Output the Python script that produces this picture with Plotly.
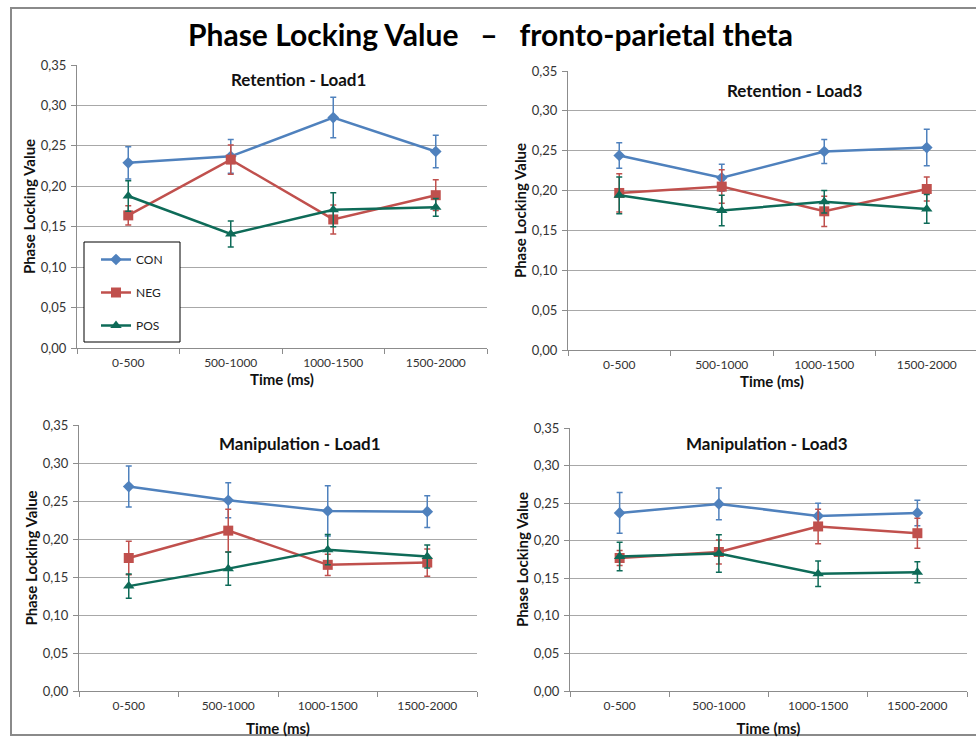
import plotly.graph_objects as go

categories = ["0-500", "500-1000", "1000-1500", "1500-2000"]
groups = ["CON", "NEG", "POS"]

panel_titles = ["Retention - Load1", "Retention - Load3",
                "Manipulation - Load1", "Manipulation - Load3"]

# Retention - Load1
ret_l1_con = [0.229, 0.237, 0.285, 0.243]
ret_l1_con_err = [0.020, 0.021, 0.025, 0.020]
ret_l1_neg = [0.164, 0.233, 0.159, 0.189]
ret_l1_neg_err = [0.012, 0.018, 0.018, 0.019]
ret_l1_pos = [0.188, 0.141, 0.171, 0.174]
ret_l1_pos_err = [0.019, 0.016, 0.021, 0.011]

# Retention - Load3
ret_l3_con = [0.244, 0.216, 0.249, 0.254]
ret_l3_con_err = [0.016, 0.017, 0.015, 0.023]
ret_l3_neg = [0.197, 0.205, 0.174, 0.202]
ret_l3_neg_err = [0.024, 0.021, 0.019, 0.015]
ret_l3_pos = [0.194, 0.175, 0.186, 0.177]
ret_l3_pos_err = [0.023, 0.019, 0.014, 0.018]

# Manipulation - Load1
man_l1_con = [0.269, 0.251, 0.237, 0.236]
man_l1_con_err = [0.027, 0.023, 0.033, 0.021]
man_l1_neg = [0.175, 0.211, 0.166, 0.169]
man_l1_neg_err = [0.022, 0.028, 0.014, 0.018]
man_l1_pos = [0.138, 0.161, 0.186, 0.177]
man_l1_pos_err = [0.016, 0.022, 0.020, 0.015]

# Manipulation - Load3
man_l3_con = [0.237, 0.249, 0.233, 0.237]
man_l3_con_err = [0.027, 0.021, 0.017, 0.017]
man_l3_neg = [0.177, 0.185, 0.219, 0.210]
man_l3_neg_err = [0.010, 0.016, 0.023, 0.020]
man_l3_pos = [0.179, 0.183, 0.156, 0.158]
man_l3_pos_err = [0.019, 0.025, 0.017, 0.014]

y_ticks = [0.00, 0.05, 0.10, 0.15, 0.20, 0.25, 0.30, 0.35]

panels = [
    [(ret_l1_con, ret_l1_con_err), (ret_l1_neg, ret_l1_neg_err), (ret_l1_pos, ret_l1_pos_err)],
    [(ret_l3_con, ret_l3_con_err), (ret_l3_neg, ret_l3_neg_err), (ret_l3_pos, ret_l3_pos_err)],
    [(man_l1_con, man_l1_con_err), (man_l1_neg, man_l1_neg_err), (man_l1_pos, man_l1_pos_err)],
    [(man_l3_con, man_l3_con_err), (man_l3_neg, man_l3_neg_err), (man_l3_pos, man_l3_pos_err)],
]

colors = ["#4F81BD", "#C0504D", "#0E6B58"]
symbols = ["diamond", "square", "triangle-up"]
msizes = [9, 10, 10]

W, H = 976, 737
def px(x):
    return x / W
def py(y):
    return 1 - y / H

# plot-area pixel boxes (left, right, top, bottom)
boxes = [(77, 487, 65, 348), (568, 976, 71, 350), (79, 477, 425, 691), (570, 967, 428, 691)]
xranges = [[-0.5, 3.5], [-0.5, 3.5 - 2 / 102.5], [-0.5, 3.5], [-0.5, 3.5]]
xtitle_standoff = [5, 5, 11, 11]

font_fam = "Lato, 'Open Sans', sans-serif"
fig = go.Figure()

for i, panel in enumerate(panels):
    xa = "x" if i == 0 else f"x{i+1}"
    ya = "y" if i == 0 else f"y{i+1}"
    for g, (vals, errs) in enumerate(panel):
        fig.add_trace(go.Scatter(
            x=categories, y=vals, xaxis=xa, yaxis=ya,
            mode="lines+markers", name=groups[g],
            legendgroup=groups[g], showlegend=(i == 0),
            line=dict(color=colors[g], width=2.5),
            marker=dict(symbol=symbols[g], size=msizes[g], color=colors[g]),
            error_y=dict(type="data", array=errs, visible=True,
                         color=colors[g], thickness=1.5, width=3),
        ))

layout = dict(
    width=W, height=H,
    margin=dict(l=0, r=0, t=0, b=0, autoexpand=False),
    paper_bgcolor="white", plot_bgcolor="white",
    separators=", ",
    font=dict(family=font_fam, color="#222222"),
    legend=dict(x=px(96), y=py(245), xanchor="left", yanchor="top",
                borderwidth=0, bgcolor="rgba(255,255,255,0)",
                font=dict(size=12, family=font_fam, color="#222222"),
                tracegroupgap=14, itemwidth=30),
    showlegend=True,
)

for i, (l, r, t, b) in enumerate(boxes):
    xk = "xaxis" if i == 0 else f"xaxis{i+1}"
    yk = "yaxis" if i == 0 else f"yaxis{i+1}"
    ya = "y" if i == 0 else f"y{i+1}"
    xa = "x" if i == 0 else f"x{i+1}"
    layout[xk] = dict(
        domain=[px(l), px(r)], anchor=ya, type="category",
        categoryorder="array", categoryarray=categories,
        range=xranges[i], showgrid=False, showline=True,
        linecolor="#8c8c8c", linewidth=1, ticks="outside",
        tickson="boundaries", ticklen=5, tickcolor="#8c8c8c",
        ticklabelstandoff=4, automargin=False,
        tickfont=dict(size=12, family=font_fam, color="#333333"),
        title=dict(text="<b>Time (ms)</b>", font=dict(size=15, family=font_fam, color="#111111"),
                   standoff=xtitle_standoff[i]),
        fixedrange=True,
    )
    layout[yk] = dict(
        domain=[py(b), py(t)], anchor=xa, range=[0, 0.35],
        tickvals=y_ticks, tickformat=".2f", showgrid=True,
        gridcolor="#a8a8a8", gridwidth=1, showline=True,
        linecolor="#8c8c8c", linewidth=1, ticks="outside", ticklen=5,
        tickcolor="#8c8c8c", zeroline=False, ticklabelstandoff=2,
        automargin=False,
        tickfont=dict(size=13, family=font_fam, color="#333333"),
        title=dict(text="<b>Phase Locking Value</b>",
                   font=dict(size=15, family=font_fam, color="#111111"), standoff=1),
        fixedrange=True,
    )

fig.update_layout(**layout)

# Main title
fig.add_annotation(text="<b>Phase Locking Value   –   fronto-parietal theta</b>",
                   x=px(490), y=py(34), xref="paper", yref="paper",
                   xanchor="center", yanchor="middle",
                   showarrow=False, font=dict(size=30, family=font_fam, color="#000000"))

# Panel titles
title_pos = [(298, 80), (794, 90), (300, 443), (767, 443)]
for txt, (tx, ty) in zip(panel_titles, title_pos):
    fig.add_annotation(text=f"<b>{txt}</b>", x=px(tx), y=py(ty), xref="paper", yref="paper",
                       xanchor="center", yanchor="middle",
                       showarrow=False, font=dict(size=17, family=font_fam, color="#111111"))

# Legend frame
fig.add_shape(type="rect", xref="paper", yref="paper", x0=px(84), x1=px(180), y0=py(342), y1=py(242),
              line=dict(color="#000000", width=1), fillcolor="white", layer="above")

# Outer frame
fig.add_shape(type="rect", xref="paper", yref="paper", x0=px(11), x1=1.02, y0=py(735), y1=py(8),
              line=dict(color="#8a8a8a", width=2), fillcolor="rgba(0,0,0,0)", layer="below")

fig.write_html("out.html")
